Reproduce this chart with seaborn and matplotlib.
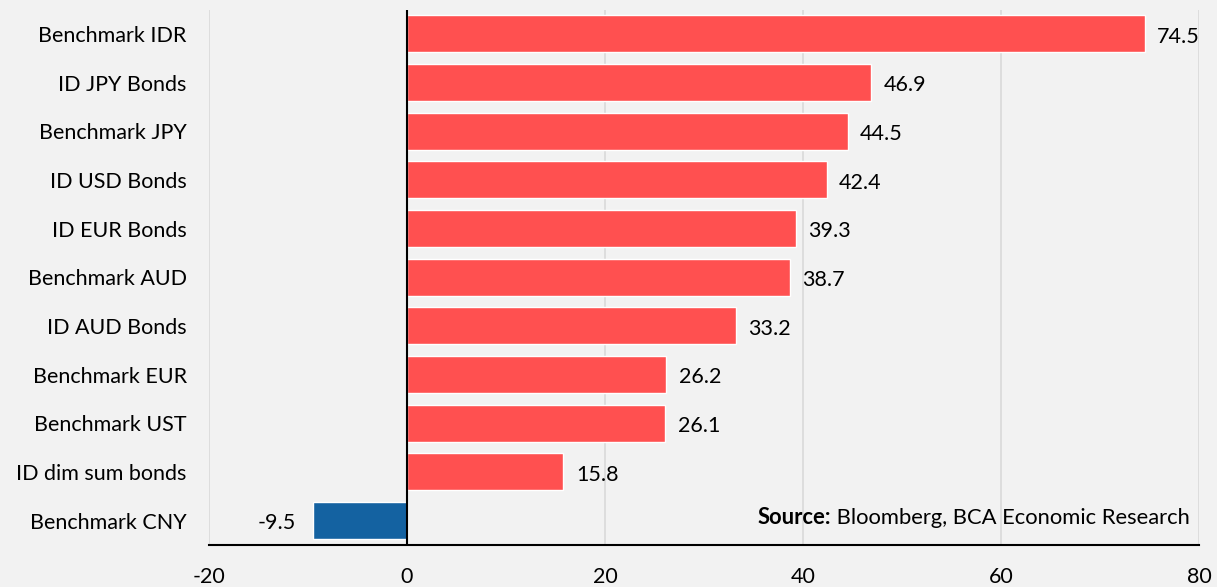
import matplotlib
matplotlib.use("Agg")
import matplotlib.pyplot as plt
import seaborn as sns
import pandas as pd

categories = ["Benchmark IDR", "ID JPY Bonds", "Benchmark JPY", "ID USD Bonds", "ID EUR Bonds",
              "Benchmark AUD", "ID AUD Bonds", "Benchmark EUR", "Benchmark UST", "ID dim sum bonds",
              "Benchmark CNY"]
values = [74.5, 46.9, 44.5, 42.4, 39.3, 38.7, 33.2, 26.2, 26.1, 15.8, -9.5]
xticks = [-20, 0, 20, 40, 60, 80]

RED = "#FF5050"
BLUE = "#1462A1"
BG = "#F2F2F2"
FS = 15.5

sns.set_theme(style="white")
plt.rcParams["font.family"] = ["Lato", "DejaVu Sans"]
plt.rcParams["text.color"] = "black"

df = pd.DataFrame({"cat": categories, "val": values})
colors = [RED if v >= 0 else BLUE for v in values]

fig = plt.figure(figsize=(12.17, 5.87), dpi=100, facecolor=BG)
ax = fig.add_axes([0.1717, 0.0716, 0.8135, 0.912])
ax.set_facecolor(BG)

sns.barplot(data=df, x="val", y="cat", hue="cat", palette=colors, legend=False,
            orient="h", width=0.76, ax=ax, saturation=1, zorder=3)

ax.set_xlim(-20, 80)
ax.set_ylim(len(categories) - 0.5, -0.5)
ax.set_xticks(xticks)
ax.set_xticklabels([str(t) for t in xticks])
ax.xaxis.grid(True, color="#D9D9D9", linewidth=1.2, zorder=0)
ax.yaxis.grid(False)
ax.axvline(0, color="black", linewidth=1.5, zorder=4)
for s in ["top", "right", "left"]:
    ax.spines[s].set_visible(False)
ax.spines["bottom"].set_color("black")
ax.spines["bottom"].set_linewidth(1.5)
ax.tick_params(axis="x", length=0, labelsize=FS, pad=16, colors="black")
ax.tick_params(axis="y", length=0, labelsize=FS, pad=16, colors="black")
ax.set_xlabel("")
ax.set_ylabel("")

for i, v in enumerate(values):
    if v >= 0:
        ax.annotate(f"{v:.1f}", (v, i), xytext=(9, -2), textcoords="offset points",
                    ha="left", va="center", fontsize=FS, color="black")
    else:
        ax.annotate(f"{v:.1f}", (v, i), xytext=(-12, -2), textcoords="offset points",
                    ha="right", va="center", fontsize=FS, color="black")

t1 = ax.text(0.0, 0.0, "Source:", fontsize=FS + 0.3, fontweight="bold", color="black",
             transform=ax.transAxes)
t2 = ax.annotate(" Bloomberg, BCA Economic Research", xy=(0.991, 0.039), xycoords="axes fraction",
                 ha="right", va="baseline", fontsize=FS + 0.3, color="black")
fig.canvas.draw()
r = fig.canvas.get_renderer()
bb2 = t2.get_window_extent(r)
inv = ax.transAxes.inverted()
x0 = inv.transform((bb2.x0, bb2.y0))[0]
t1.set_position((x0, 0.039))
t1.set_ha("right")
t1.set_va("baseline")

fig.savefig("out.png", dpi=100, facecolor=BG)
